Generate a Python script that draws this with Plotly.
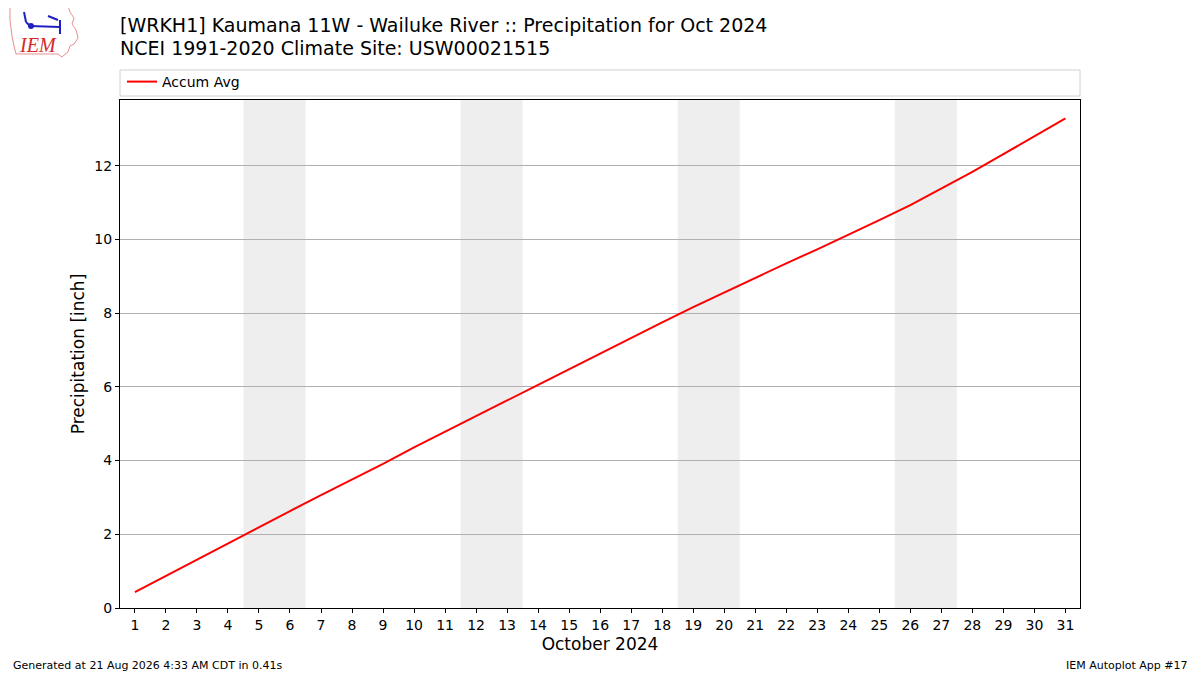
import plotly.graph_objects as go

# accumulated average precipitation, inches, by day of October
days = list(range(1, 32))
accum_avg = [0.43, 0.87, 1.32, 1.77, 2.21, 2.63, 3.06, 3.48, 3.91, 4.36,
             4.79, 5.21, 5.63, 6.05, 6.48, 6.91, 7.34, 7.75, 8.16, 8.56,
             8.95, 9.35, 9.73, 10.12, 10.52, 10.93, 11.37, 11.83, 12.31,
             12.80, 13.28]

# weekend spans (Sat-Sun) shaded in the background
weekends = [(5, 6), (12, 13), (19, 20), (26, 27)]

title_1 = "[WRKH1] Kaumana 11W - Wailuke River :: Precipitation for Oct 2024"
title_2 = "NCEI 1991-2020 Climate Site: USW00021515"
footer_left = "Generated at 21 Aug 2026 4:33 AM CDT in 0.41s"
footer_right = "IEM Autoplot App #17"

FONT = "DejaVu Sans"

# page is drawn with an 8px body margin, so the figure is shrunk to fit
W, H = 1192, 667
L, R, T, B = 112, 120, 92, 67
PW, PH = W - L - R, H - T - B


def px(x, y):
    """page pixel (from the reference picture) -> paper coords"""
    return (x - 8 - L) / PW, (H - B - (y - 8)) / PH


fig = go.Figure()

for start, end in weekends:
    fig.add_vrect(x0=start - 0.5, x1=end + 0.5, fillcolor="#eeeeee",
                  line_width=0, layer="below")

fig.add_trace(go.Scatter(x=days, y=accum_avg, mode="lines", name="Accum Avg",
                         line=dict(color="red", width=2)))

# legend frame spanning the plot width
x0, y0 = px(120, 96)
x1, y1 = px(1080, 70)
fig.add_shape(type="rect", xref="paper", yref="paper", x0=x0, x1=x1,
              y0=y0, y1=y1, line=dict(color="#d0d0d0", width=1),
              fillcolor="white")

# rough IEM logo: state outline + vane
outline = [(10, 7), (68, 6), (70, 12), (74, 18), (72, 24), (76, 30),
           (78, 38), (74, 44), (70, 46), (68, 52), (64, 55), (62, 57),
           (58, 54), (16, 54), (14, 46), (12, 36), (10, 20)]
pts = [px(a, b) for a, b in outline]
path = "M " + " L ".join(f"{a:.4f},{b:.4f}" for a, b in pts) + " Z"
fig.add_shape(type="path", xref="paper", yref="paper", path=path,
              line=dict(color="#e89090", width=1))
vane = [[(30, 26), (60, 27)], [(24, 12), (26, 22)], [(26, 22), (30, 26)],
        [(48, 16), (58, 20)], [(60, 20), (60, 34)]]
for seg in vane:
    (a, b), (c, d) = px(*seg[0]), px(*seg[1])
    fig.add_shape(type="line", xref="paper", yref="paper", x0=a, y0=b,
                  x1=c, y1=d, line=dict(color="#2020c0", width=2))
cx, cy = px(31, 26)
dx, dy = 3 / PW, 3 / PH
fig.add_shape(type="circle", xref="paper", yref="paper", x0=cx - dx,
              x1=cx + dx, y0=cy - dy, y1=cy + dy, fillcolor="#2020c0",
              line_width=0)
lx, ly = px(38, 45)
fig.add_annotation(text="<i>IEM</i>", xref="paper", yref="paper", x=lx, y=ly,
                   xanchor="center", yanchor="middle", showarrow=False,
                   font=dict(family="Liberation Serif", size=20, color="#d42a2a"))

tx, ty = px(118, 25)
fig.add_annotation(text=title_1, xref="paper", yref="paper", x=tx, y=ty,
                   xanchor="left", yanchor="middle", showarrow=False,
                   font=dict(family=FONT, size=19, color="black"))
tx, ty = px(118, 48)
fig.add_annotation(text=title_2, xref="paper", yref="paper", x=tx, y=ty,
                   xanchor="left", yanchor="middle", showarrow=False,
                   font=dict(family=FONT, size=19, color="black"))
fx, fy = px(11, 665)
fig.add_annotation(text=footer_left, xref="paper", yref="paper", x=fx, y=fy,
                   xanchor="left", yanchor="middle", showarrow=False,
                   font=dict(family=FONT, size=11, color="black"))
fx, fy = px(1190, 665)
fig.add_annotation(text=footer_right, xref="paper", yref="paper", x=fx, y=fy,
                   xanchor="right", yanchor="middle", showarrow=False,
                   font=dict(family=FONT, size=11, color="black"))

gx, gy = px(122, 82)
fig.update_layout(
    width=W, height=H,
    margin=dict(l=L, r=R, t=T, b=B),
    paper_bgcolor="white", plot_bgcolor="white",
    font=dict(family=FONT, size=14, color="black"),
    showlegend=True,
    legend=dict(x=gx, y=gy, xanchor="left", yanchor="middle",
                orientation="h", bgcolor="rgba(0,0,0,0)",
                font=dict(family=FONT, size=14)),
    xaxis=dict(range=[0.52, 31.47], tickmode="array", tickvals=days,
               ticks="outside", ticklen=4, tickcolor="black",
               showline=True, linecolor="black", linewidth=1, mirror=True,
               showgrid=False, zeroline=False,
               title=dict(text="October 2024", font=dict(size=17), standoff=6)),
    yaxis=dict(range=[0, 13.78], tickvals=[0, 2, 4, 6, 8, 10, 12],
               ticks="outside", ticklen=4, tickcolor="black",
               showline=True, linecolor="black", linewidth=1, mirror=True,
               showgrid=True, gridcolor="#b0b0b0", gridwidth=1, zeroline=False,
               title=dict(text="Precipitation [inch]", font=dict(size=17),
                          standoff=5)),
)

fig.write_html("out.html")
